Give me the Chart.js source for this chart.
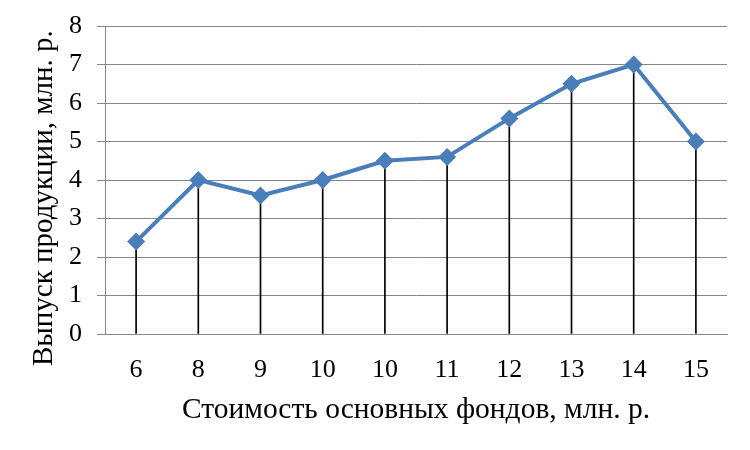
<!DOCTYPE html>
<html>
<head>
<meta charset="utf-8">
<script src="https://cdn.jsdelivr.net/npm/chart.js@4"></script>
<style>
  html, body { margin: 0; padding: 0; background: #fff; }
  #wrap { width: 750px; height: 450px; }
</style>
</head>
<body>
<div id="wrap"><canvas id="chart1" width="750" height="450"></canvas></div>
<script>
const categories = ["6", "8", "9", "10", "10", "11", "12", "13", "14", "15"];
const outputValues = [2.4, 4, 3.6, 4, 4.5, 4.6, 5.6, 6.5, 7, 5];
const yTicks = [0, 1, 2, 3, 4, 5, 6, 7, 8];

const serif = "'Liberation Serif', 'Times New Roman', serif";
Chart.defaults.font.family = serif;
Chart.defaults.color = "#000";

const data1 = {
  labels: categories,
  datasets: [
    {
      type: "line",
      label: "Выпуск продукции",
      data: outputValues,
      borderColor: "#4a7ebb",
      backgroundColor: "#4a7ebb",
      borderWidth: 4,
      pointStyle: "rectRot",
      pointRadius: 9,
      pointBorderWidth: 0,
      tension: 0,
      order: 1,
    },
    {
      // drop lines from each point to the axis
      type: "bar",
      label: "drop",
      data: outputValues,
      backgroundColor: "#000",
      barThickness: 1,
      order: 2,
    },
  ],
};

const config1 = {
  data: data1,
  options: {
    responsive: false,
    animation: false,
    layout: { padding: { top: 26, right: 23, left: 0, bottom: 0 } },
    plugins: { legend: { display: false }, tooltip: { enabled: false } },
    scales: {
      x: {
        offset: true,
        afterFit: (axis) => { axis.height = 116; },
        grid: { display: false, drawTicks: false },
        border: { color: "#868686" },
        ticks: { font: { size: 26 }, padding: 21, maxRotation: 0, autoSkip: false },
        title: {
          display: true,
          text: "Стоимость основных фондов, млн. р.",
          font: { size: 29.5 },
          padding: { top: 0, bottom: 22 },
        },
      },
      y: {
        min: 0,
        max: 8,
        afterFit: (axis) => {
          axis.width = 105;
          axis.paddingTop = 0;
          axis.paddingBottom = 0;
        },
        afterBuildTicks: (axis) => {
          axis.ticks = yTicks.map((v) => ({ value: v }));
        },
        grid: { color: "#868686", tickLength: 8 },
        border: { color: "#868686" },
        ticks: { font: { size: 26 }, padding: 15 },
        title: {
          display: true,
          // trailing spaces push the title a bit lower, as in the original
          text: "Выпуск продукции, млн. р.\u00a0\u00a0\u00a0\u00a0\u00a0",
          font: { size: 29 },
          padding: { top: 27, bottom: 0 },
        },
      },
    },
  },
};
const myChart = new Chart(document.getElementById("chart1"), config1);
</script>
</body>
</html>
